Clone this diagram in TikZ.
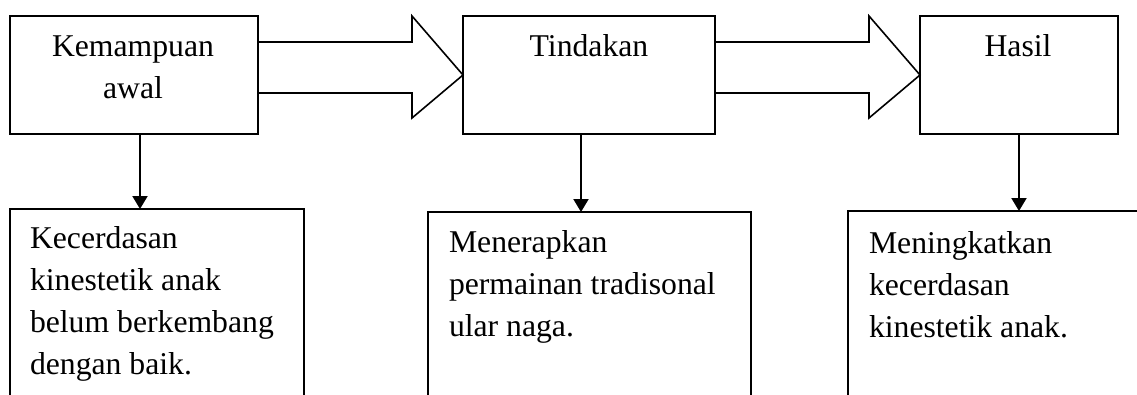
\documentclass[tikz,border=0pt]{standalone}
\usepackage{fontspec}
\setmainfont{Liberation Serif}
\usetikzlibrary{arrows.meta}
\begin{document}
\begin{tikzpicture}[x=1pt,y=-1pt,
  box/.style={draw=black,line width=1.6pt,inner sep=0pt,outer sep=0pt,anchor=north west},
  txt/.style={inner sep=0pt,outer sep=0pt,font=\fontsize{31.7}{42}\selectfont},
  blockarrow/.style={draw=black,line width=1.6pt,line join=miter},
  down/.style={line width=2pt,-{Triangle[length=13pt,width=15pt]}}]
\useasboundingbox (0,0) rectangle (1137,394);
\clip (0,0) rectangle (1137,394);
\fill[white] (0,0) rectangle (1137,394);
% top boxes
\node[box,minimum width=248pt,minimum height=118pt] (b1) at (10,16) {};
\node[box,minimum width=252pt,minimum height=118pt] (b2) at (463,16) {};
\node[box,minimum width=198pt,minimum height=118pt] (b3) at (920,16) {};
% bottom boxes
\node[box,minimum width=294pt,minimum height=200pt] (b4) at (10,209) {};
\node[box,minimum width=323pt,minimum height=200pt] (b5) at (428,212) {};
\node[box,minimum width=310pt,minimum height=200pt] (b6) at (848,211) {};
% texts (base anchor = baseline of last line)
\node[txt,anchor=base] (t1a) at (133,56.7) {Kemampuan};
\node[txt,anchor=base] (t1b) at (133,98) {awal};
\node[txt,anchor=base] (t2) at (589,56.7) {Tindakan};
\node[txt,anchor=base] (t3) at (1018,56.7) {Hasil};
\node[txt,anchor=base west,align=left] (t4) at (30,374) {Kecerdasan\\kinestetik anak\\belum berkembang\\dengan baik.};
\node[txt,anchor=base west,align=left] (t5) at (449,336) {Menerapkan\\permainan tradisonal\\ular naga.};
\node[txt,anchor=base west,align=left] (t6) at (869,337) {Meningkatkan\\kecerdasan\\kinestetik anak.};
% block arrows
\draw[blockarrow] (b1.east |- 0,42) -- (412,42) -- (412,16) -- (b2.west) -- (412,118) -- (412,93) -- (b1.east |- 0,93);
\draw[blockarrow] (b2.east |- 0,42) -- (869,42) -- (869,16) -- (b3.west) -- (869,118) -- (869,93) -- (b2.east |- 0,93);
% down arrows
\draw[down] (b1.south -| 140,0) -- (b4.north -| 140,0);
\draw[down] (b2.south -| 581,0) -- (b5.north -| 581,0);
\draw[down] (b3.south -| 1019,0) -- (b6.north -| 1019,0);
\end{tikzpicture}
\end{document}
